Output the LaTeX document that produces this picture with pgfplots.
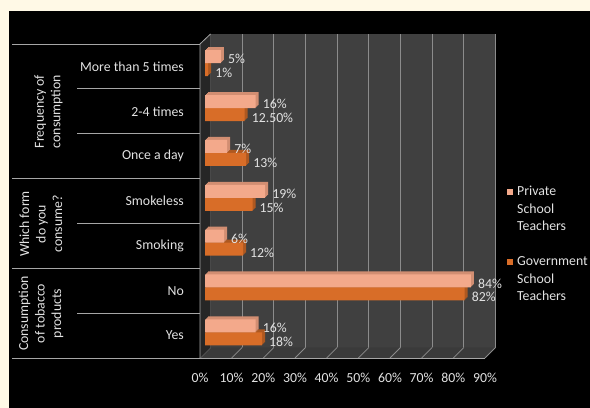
\documentclass[border=0pt]{standalone}
\usepackage{pgfplots}
\pgfplotsset{compat=1.18}
\usepackage{pgfplotstable}
\usepackage{fontspec}
\setmainfont{Carlito}
\definecolor{cream}{HTML}{FFF9E6}
\definecolor{wallc}{HTML}{404040}
\definecolor{leftc}{HTML}{262626}
\definecolor{floorc}{HTML}{3A3A3A}
\definecolor{gridc}{HTML}{8C8C8C}
\definecolor{sepc}{HTML}{A6A6A6}
\definecolor{txtc}{HTML}{E2E2E2}
\definecolor{privc}{HTML}{F3A98B}
\definecolor{privs}{HTML}{D28E72}
\definecolor{govc}{HTML}{D86D28}
\definecolor{govs}{HTML}{AE5820}
\newcommand\lab{\fontsize{13.8bp}{16.5bp}\selectfont}
\pgfplotstableread{
cat priv gov privlab govlab
0 16 18 16 18
1 84 82 84 82
2 6 12 6 12
3 19 15 19 15
4 7 13 7 13
5 16 12.5 16 12.50
6 5 1 5 1
}\datatable
\begin{document}
\begin{tikzpicture}
\path[use as bounding box] (0bp,0bp) rectangle (590bp,408bp);
\fill[cream] (0bp,0bp) rectangle (590bp,408bp);
\fill[black] (9bp,0bp) rectangle (590bp,397bp);
% back wall
\begin{axis}[at={(210.5bp,60.5bp)}, anchor=south west, scale only axis,
  width=285bp, height=313.5bp, xmin=0, xmax=90, ymin=0, ymax=1,
  xtick={0,10,...,90}, ytick=\empty, xticklabels={},
  xmajorgrids, grid style={gridc, line width=1bp},
  axis line style={draw=none}, major tick length=0pt,
  axis background/.style={fill=wallc}]
\addplot[draw=none, forget plot] coordinates {(0,0)};
\end{axis}
\begin{scope}[x=1bp,y=1bp]
\fill[floorc] (200,50)--(485,50)--(495.5,60.5)--(210.5,60.5)--cycle;
\foreach \k in {0,...,9} \draw[gridc, line width=0.8bp] ({200+\k*31.667},50)--({210.5+\k*31.667},60.5);
\fill[leftc] (200,50)--(210.5,60.5)--(210.5,374)--(200,364)--cycle;
\draw[sepc, line width=0.8bp] (200,50)--(485,50);
\draw[sepc, line width=0.8bp] (200,50)--(200,364)--(210.5,374);
\foreach \k in {0,2,4,7} \draw[sepc, line width=0.8bp] (12,{50+\k*44.857})--(200,{50+\k*44.857});
\foreach \k in {1,3,5,6} \draw[sepc, line width=0.8bp] (77,{50+\k*44.857})--(200,{50+\k*44.857});
\foreach \k/\t in {0/Yes,1/No,2/Smoking,3/Smokeless,4/Once a day,5/2-4 times,6/More than 5 times}
  \node[anchor=east, inner sep=0pt, font=\lab, text=txtc] at (184,{50+(\k+0.5)*44.857}) {\t};
\node[rotate=90, align=center, font=\lab, text=txtc] at (48.5,296.5) {Frequency of\\consumption};
\node[rotate=90, align=center, font=\lab, text=txtc] at (41,184) {Which form\\do you\\consume?};
\node[rotate=90, align=center, font=\lab, text=txtc] at (41,94.5) {Consumption\\of tobacco\\products};
\end{scope}
% front axis: tick labels
\begin{axis}[at={(200bp,50bp)}, anchor=south west, scale only axis,
  width=285bp, height=314bp, xmin=0, xmax=90, ymin=-0.5, ymax=6.5,
  xtick={0,10,...,90}, ytick=\empty,
  xticklabels={0\%,10\%,20\%,30\%,40\%,50\%,60\%,70\%,80\%,90\%},
  xticklabel style={anchor=center, yshift=-20bp, font=\lab, text=txtc},
  axis line style={draw=none}, major tick length=0pt]
\addplot[draw=none, forget plot] coordinates {(0,0)};
\end{axis}
% bars
\begin{axis}[at={(205bp,50bp)}, anchor=south west, scale only axis,
  width=285bp, height=314bp, xmin=0, xmax=90, ymin=-0.5, ymax=6.5,
  hide axis, clip=false, bar width=13bp,
  legend style={at={(1.0596,0.549)}, anchor=north west, draw=none, fill=none,
    inner sep=0pt, row sep=4.5bp, column sep=4bp, font=\lab, text=txtc,
    nodes={inner sep=0pt, text height=10bp, text depth=3bp}},
  legend cell align=left]
\addplot[xbar, bar shift=-3.25bp, fill=govs, draw=none, xshift=1bp, yshift=1bp, forget plot] table[x=gov,y=cat]{\datatable};
\addplot[xbar, bar shift=-3.25bp, fill=govs, draw=none, xshift=2bp, yshift=2bp, forget plot] table[x=gov,y=cat]{\datatable};
\addplot[xbar, bar shift=-3.25bp, fill=govs, draw=none, xshift=3bp, yshift=3bp, forget plot] table[x=gov,y=cat]{\datatable};
\addplot[xbar, bar shift=-3.25bp, fill=govc, draw=none, forget plot,
  point meta=explicit symbolic, nodes near coords={\pgfplotspointmeta\%},
  nodes near coords style={anchor=west, inner sep=0pt, xshift=7bp, yshift=-6.5bp, text=txtc, font=\lab}]
  table[x=gov,y=cat,meta=govlab]{\datatable};
\addplot[xbar, bar shift=9.75bp, fill=privs, draw=none, xshift=1bp, yshift=1bp, forget plot] table[x=priv,y=cat]{\datatable};
\addplot[xbar, bar shift=9.75bp, fill=privs, draw=none, xshift=2bp, yshift=2bp, forget plot] table[x=priv,y=cat]{\datatable};
\addplot[xbar, bar shift=9.75bp, fill=privs, draw=none, xshift=3bp, yshift=3bp, forget plot] table[x=priv,y=cat]{\datatable};
\addplot[xbar, bar shift=9.75bp, fill=privc, draw=none, forget plot,
  point meta=explicit symbolic, nodes near coords={\pgfplotspointmeta\%},
  nodes near coords style={anchor=west, inner sep=0pt, xshift=7bp, yshift=7.25bp, text=txtc, font=\lab}]
  table[x=priv,y=cat,meta=privlab]{\datatable};
\addlegendimage{fill=privc, draw=none, legend image code/.code={\fill (0bp,-3bp) rectangle (6bp,3bp);}}
\addlegendentry{Private}
\addlegendimage{legend image code/.code={}}
\addlegendentry{School}
\addlegendimage{legend image code/.code={}}
\addlegendentry{Teachers}
\addlegendimage{legend image code/.code={}}
\addlegendentry{}
\addlegendimage{fill=govc, draw=none, legend image code/.code={\fill (0bp,-3bp) rectangle (6bp,3bp);}}
\addlegendentry{Government}
\addlegendimage{legend image code/.code={}}
\addlegendentry{School}
\addlegendimage{legend image code/.code={}}
\addlegendentry{Teachers}
\end{axis}
\end{tikzpicture}
\end{document}
